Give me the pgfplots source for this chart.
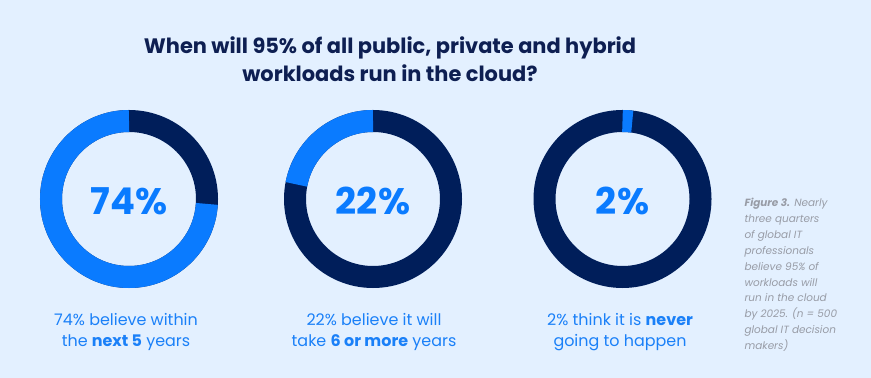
\documentclass[border=0pt]{standalone}
\usepackage{pgfplots}
\pgfplotsset{compat=1.18}
\usepackage{fontspec}
\setmainfont{Poppins}
\definecolor{bg}{HTML}{E3F0FF}
\definecolor{cblue}{HTML}{0A7BFF}
\definecolor{cnavy}{HTML}{001E5A}
\definecolor{tnavy}{HTML}{0E1F52}
\definecolor{tblue}{HTML}{1A80F8}
\definecolor{cgrey}{HTML}{989CA6}
\begin{document}
\begin{tikzpicture}
\fill[bg] (0,0) rectangle (871bp,378bp);
\useasboundingbox (0,0) rectangle (871bp,378bp);
\begin{axis}[
  at={(0,0)}, anchor=origin,
  scale only axis, width=871bp, height=378bp,
  xmin=0, xmax=871, ymin=0, ymax=378,
  hide axis, clip=false,
]
% x = donut centre, y = centre height, pct = blue share, dir = +1 ccw / -1 cw
\addplot[
  scatter, only marks, mark=none, mark size=0pt,
  point meta=explicit,
  visualization depends on={\thisrow{pct} \as \pct},
  visualization depends on={\thisrow{dir} \as \dir},
  scatter/use mapped color={draw=none, fill=none},
  scatter/@pre marker code/.code={
    \pgfmathsetmacro{\endang}{90+\dir*3.6*\pct}
    \pgfmathtruncatemacro{\pint}{\pct}
    \draw[line width=22bp, cnavy] (0,0) circle[radius=78bp];
    \draw[line width=22bp, cblue] (90:78bp) arc[start angle=90, end angle=\endang, radius=78bp];
    \node[text=cblue, font=\fontsize{37}{37}\selectfont\bfseries] at (0,-2bp) {\pint\%};
  },
  scatter/@post marker code/.code={},
] table[x=x, y=y, meta=pct] {
x      y    pct  dir
129    179  74   1
373    179  22   1
622.5  179  2    -1
};
\end{axis}
\node[text=tnavy, font=\fontsize{21}{28}\selectfont\bfseries, align=center] at (390bp,319bp)
  {When will 95\% of all public, private and hybrid\\workloads run in the cloud?};
\node[text=tblue, font=\fontsize{16}{21}\selectfont, align=center] at (126bp,46bp)
  {74\% believe within\\the \textbf{next 5} years};
\node[text=tblue, font=\fontsize{16}{21}\selectfont, align=center] at (374bp,46bp)
  {22\% believe it will\\take \textbf{6 or more} years};
\node[text=tblue, font=\fontsize{16}{21}\selectfont, align=center] at (620bp,46bp)
  {2\% think it is \textbf{never}\\going to happen};
\node[text=cgrey, font=\fontsize{10.5}{15.9}\selectfont\itshape, align=left, anchor=north west] at (741bp,183bp)
  {\textbf{Figure 3.} Nearly\\three quarters\\of global IT\\professionals\\believe 95\% of\\workloads will\\run in the cloud\\by 2025. (n = 500\\global IT decision\\makers)};
\end{tikzpicture}
\end{document}
